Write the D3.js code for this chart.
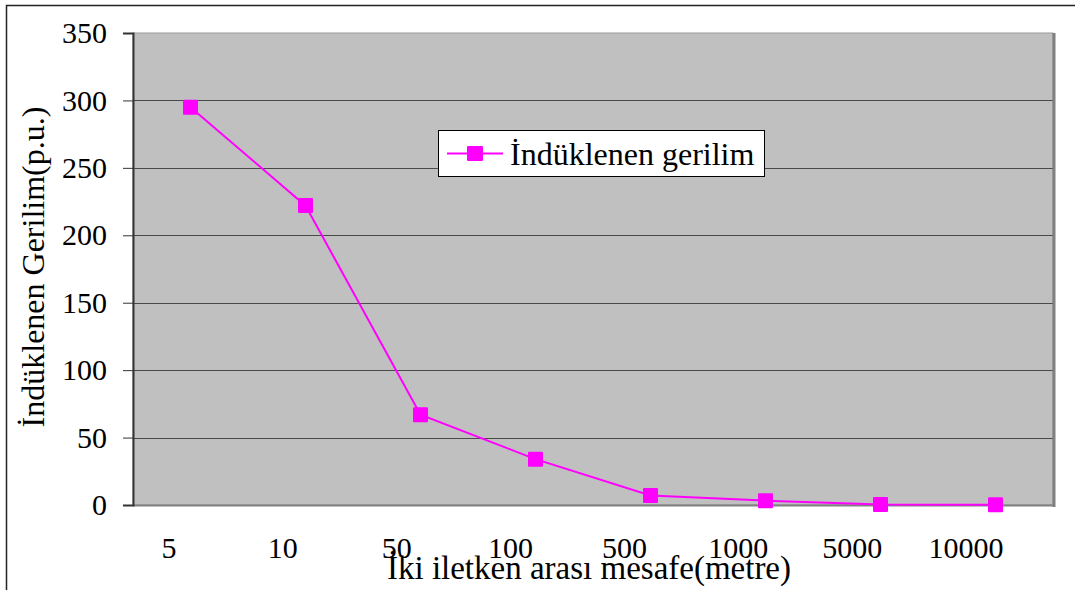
<!DOCTYPE html>
<html>
<head>
<meta charset="utf-8">
<script src="https://cdn.jsdelivr.net/npm/d3@7"></script>
<style>
    body { margin: 0; background: #fff; }
    svg text { font-family: "Liberation Serif", "Times New Roman", Times, serif; fill: #000; }
</style>
</head>
<body>
<svg width="1075" height="590"></svg>
<script>
// chart data
let categories = ['5', '10', '50', '100', '500', '1000', '5000', '10000'];
let values = [295, 222, 67, 34, 7, 3.2, 0.3, 0.2];
let yTicks = [0, 50, 100, 150, 200, 250, 300, 350];
let seriesName = 'İndüklenen gerilim';
let xTitle = 'İki iletken arası mesafe(metre)';
let yTitle = 'İndüklenen Gerilim(p.u.)';

let serif = '"Liberation Serif", "Times New Roman", Times, serif';

document.addEventListener('DOMContentLoaded', function() {
    let svg = d3.select('svg');

    let margin = { left: 133, top: 33, right: 1053, bottom: 505 };

    // outer frame
    svg.append('rect')
        .attr('x', 6.5).attr('y', 5.5)
        .attr('width', 1080).attr('height', 600)
        .attr('fill', 'none')
        .attr('stroke', '#222')
        .attr('stroke-width', 1.5);

    let x = d3.scaleBand()
        .domain(categories)
        .range([margin.left, margin.right]);

    // the category labels sit a bit left of the points
    let xLabel = d3.scaleBand()
        .domain(categories)
        .range([margin.left - 21, margin.right - 30]);

    let y = d3.scaleLinear()
        .domain([0, 350])
        .range([margin.bottom, margin.top]);

    // plot background
    svg.append('rect')
        .attr('x', margin.left).attr('y', margin.top)
        .attr('width', margin.right - margin.left)
        .attr('height', margin.bottom - margin.top)
        .attr('fill', '#c0c0c0')
        .attr('stroke', '#9a9a9a')
        .attr('stroke-width', 1);

    // grid lines
    svg.append('g').attr('class', 'grid')
        .selectAll('line')
        .data(yTicks.filter(d => d > 0 && d < 350))
        .join('line')
        .attr('x1', margin.left).attr('x2', margin.right)
        .attr('y1', d => Math.round(y(d)) + 0.5)
        .attr('y2', d => Math.round(y(d)) + 0.5)
        .attr('stroke', '#4a4a4a')
        .attr('stroke-width', 1);

    // right and bottom border shadow
    svg.append('line')
        .attr('x1', margin.right + 1).attr('x2', margin.right + 1)
        .attr('y1', margin.top).attr('y2', margin.bottom + 2)
        .attr('stroke', '#808080').attr('stroke-width', 3);
    svg.append('line')
        .attr('x1', margin.left).attr('x2', margin.right + 2)
        .attr('y1', margin.bottom + 0.5).attr('y2', margin.bottom + 0.5)
        .attr('stroke', '#808080').attr('stroke-width', 2);

    // y axis
    let yAxis = svg.append('g')
        .attr('transform', 'translate(' + margin.left + ',0)')
        .call(d3.axisLeft(y).tickValues(yTicks).tickSize(10).tickPadding(16));
    yAxis.attr('font-family', null);
    yAxis.select('.domain').attr('stroke', '#333').attr('stroke-width', 2);
    yAxis.selectAll('.tick line').attr('stroke', '#333');
    yAxis.selectAll('.tick text')
        .style('font-family', serif)
        .style('font-size', '30px')
        .attr('fill', '#000');

    // x axis labels (no ticks)
    let xAxis = svg.append('g')
        .attr('transform', 'translate(0,' + margin.bottom + ')')
        .call(d3.axisBottom(xLabel).tickSize(0).tickPadding(32));
    xAxis.attr('font-family', null);
    xAxis.select('.domain').remove();
    xAxis.selectAll('.tick text')
        .style('font-family', serif)
        .style('font-size', '30px')
        .attr('fill', '#000');

    // series line
    let line = d3.line()
        .x((d, i) => x(categories[i]) + x.bandwidth() / 2)
        .y(d => y(d));

    svg.append('path')
        .datum(values)
        .attr('d', line)
        .attr('fill', 'none')
        .attr('stroke', '#ff00ff')
        .attr('stroke-width', 2);

    svg.append('g').attr('class', 'markers')
        .selectAll('rect')
        .data(values)
        .join('rect')
        .attr('x', (d, i) => x(categories[i]) + x.bandwidth() / 2 - 7.5)
        .attr('y', d => y(d) - 7.5)
        .attr('width', 15).attr('height', 15)
        .attr('rx', 1)
        .attr('fill', '#ff00ff');

    // legend
    let legend = svg.append('g').attr('transform', 'translate(438,130)');
    legend.append('rect')
        .attr('x', 0.5).attr('y', 0.5)
        .attr('width', 326).attr('height', 46)
        .attr('fill', '#fff')
        .attr('stroke', '#000')
        .attr('stroke-width', 1);
    legend.append('line')
        .attr('x1', 9).attr('x2', 65)
        .attr('y1', 23.5).attr('y2', 23.5)
        .attr('stroke', '#ff00ff').attr('stroke-width', 2);
    legend.append('rect')
        .attr('x', 29).attr('y', 16)
        .attr('width', 16).attr('height', 15)
        .attr('rx', 1)
        .attr('fill', '#ff00ff');
    legend.append('text')
        .attr('x', 72).attr('y', 35)
        .style('font-family', serif)
        .style('font-size', '32px')
        .text(seriesName);

    // axis titles
    svg.append('text')
        .attr('x', 589).attr('y', 579)
        .attr('text-anchor', 'middle')
        .style('font-family', serif)
        .style('font-size', '33px')
        .text(xTitle);

    svg.append('text')
        .attr('transform', 'translate(44,267) rotate(-90)')
        .attr('text-anchor', 'middle')
        .style('font-family', serif)
        .style('font-size', '32px')
        .text(yTitle);
});
</script>
</body>
</html>
